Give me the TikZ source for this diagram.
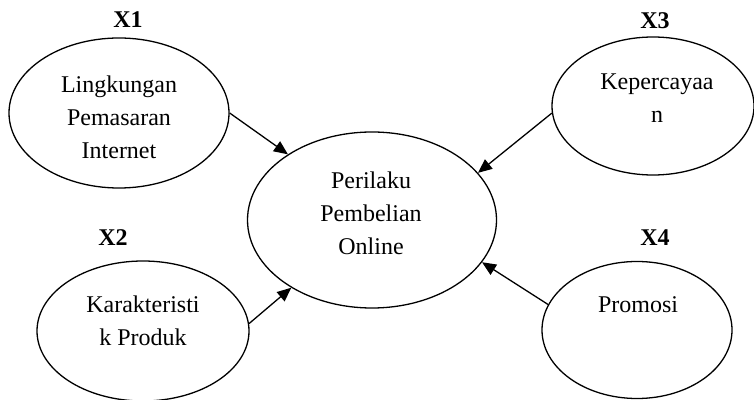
\documentclass[tikz,border=0pt]{standalone}
\usepackage{fontspec}
\setmainfont{Liberation Serif}
\usepackage{tikz}
\usetikzlibrary{shapes.geometric, arrows.meta}

\begin{document}
\begin{tikzpicture}[x=0.5pt, y=-0.5pt, line width=0.65pt,
    var/.style={draw, ellipse, inner sep=0pt},
    txt/.style={align=center, inner sep=0pt, font=\fontsize{12}{16.5}\selectfont},
    tag/.style={inner sep=0pt, font=\fontsize{12}{14}\selectfont\bfseries},
    link/.style={-{Triangle[length=7pt, width=6pt]}}]
    \useasboundingbox (0, 0) rectangle (754, 400);

    % variables
    \node[var, minimum width=110pt, minimum height=75pt] (x1) at (119, 113) {};
    \node[var, minimum width=101pt, minimum height=69pt] (x3) at (653, 106) {};
    \node[var, minimum width=106pt, minimum height=70pt] (x2) at (143, 331) {};
    \node[var, minimum width=95pt, minimum height=68.5pt] (x4) at (637, 330) {};
    \node[var, minimum width=124.5pt, minimum height=88pt] (y) at (372, 220) {};

    % texts
    \node[txt] (x1t) at (119, 117) {Lingkungan\\Pemasaran\\Internet};
    \node[txt] (x3t) at (657, 98) {Kepercayaa\\n};
    \node[txt] (x2t) at (143, 321) {Karakteristi\\k Produk};
    \node[txt] (x4t) at (638, 305) {Promosi};
    \node[txt] (yt) at (371, 213) {Perilaku\\Pembelian\\Online};

    % labels
    \node[tag] (x1l) at (128, 20) {X1};
    \node[tag] (x3l) at (655, 21) {X3};
    \node[tag] (x2l) at (113, 238) {X2};
    \node[tag] (x4l) at (655, 238) {X4};

    % arrows
    \draw[link] (x1.east) -- (y.142);
    \draw[link] (x3.184) -- (y.24);
    \draw[link] (x2.4) -- (y.220);
    \draw[link] (x4.164) -- (y.339);

\end{tikzpicture}
\end{document}
